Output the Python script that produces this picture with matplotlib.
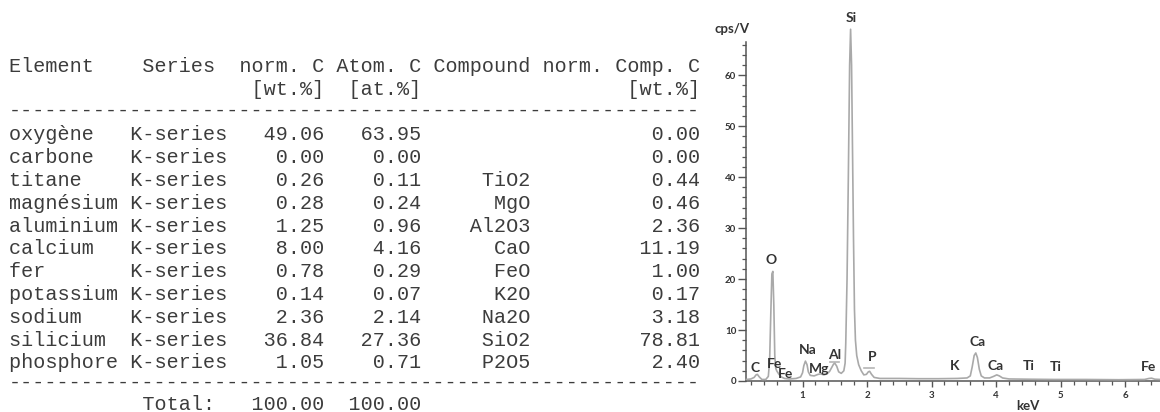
import matplotlib.pyplot as plt
from matplotlib.ticker import MultipleLocator

# --- quantification table (left) ---
elements = ["oxygène", "carbone", "titane", "magnésium", "aluminium", "calcium",
            "fer", "potassium", "sodium", "silicium", "phosphore"]
series = ["K-series"] * len(elements)
norm_c = [49.06, 0.00, 0.26, 0.28, 1.25, 8.00, 0.78, 0.14, 2.36, 36.84, 1.05]
atom_c = [63.95, 0.00, 0.11, 0.24, 0.96, 4.16, 0.29, 0.07, 2.14, 27.36, 0.71]
compounds = ["", "", "TiO2", "MgO", "Al2O3", "CaO", "FeO", "K2O", "Na2O", "SiO2", "P2O5"]
comp_c = [0.00, 0.00, 0.44, 0.46, 2.36, 11.19, 1.00, 0.17, 3.18, 78.81, 2.40]
total_norm = 100.00
total_atom = 100.00

# --- EDS spectrum (right) ---
kev = [0.13, 0.20, 0.25, 0.28, 0.30, 0.33, 0.37, 0.43, 0.47, 0.49,
       0.51, 0.525, 0.54, 0.555, 0.57, 0.585, 0.60, 0.63, 0.67, 0.72,
       0.80, 0.90, 0.97, 1.00, 1.02, 1.045, 1.07, 1.09, 1.12, 1.18,
       1.24, 1.28, 1.33, 1.38, 1.42, 1.45, 1.48, 1.50, 1.53, 1.56,
       1.60, 1.64, 1.66, 1.67, 1.69, 1.71, 1.73, 1.745, 1.76, 1.775,
       1.79, 1.805, 1.82, 1.84, 1.87, 1.91, 1.95, 1.99, 2.02, 2.04,
       2.07, 2.11, 2.20, 2.50, 2.80, 3.10, 3.40, 3.55, 3.60, 3.63,
       3.66, 3.685, 3.71, 3.74, 3.77, 3.82, 3.90, 3.96, 4.01, 4.05,
       4.10, 4.20, 4.50, 4.90, 5.40, 5.90, 6.30, 6.37, 6.41, 6.46, 6.55]
cps = [0.3, 0.4, 0.7, 1.2, 1.3, 0.8, 0.3, 0.3, 0.9, 4.0,
       14.0, 21.0, 21.5, 15.0, 5.0, 2.5, 2.0, 1.4, 0.8, 0.5,
       0.4, 0.5, 0.8, 1.6, 3.0, 3.9, 3.2, 1.8, 1.1, 1.0,
       1.3, 1.4, 1.2, 1.4, 1.9, 2.6, 3.3, 3.5, 2.9, 1.8,
       1.5, 2.0, 3.5, 7.4, 20.0, 40.0, 62.0, 69.0, 62.0, 45.0,
       28.0, 14.0, 8.0, 5.0, 3.2, 2.0, 1.2, 1.3, 1.8, 1.9,
       1.3, 0.7, 0.5, 0.5, 0.45, 0.45, 0.5, 0.6, 1.0, 2.8,
       5.0, 5.5, 4.6, 2.3, 1.0, 0.6, 0.6, 0.9, 1.2, 1.0,
       0.6, 0.4, 0.35, 0.3, 0.3, 0.25, 0.3, 0.5, 0.55, 0.35, 0.3]

peak_labels = ["Si", "O", "C", "Fe", "Fe", "Na", "Mg", "Al", "P", "Ca", "K", "Ca", "Ti", "Ti", "Fe"]
label_kev = [1.76, 0.52, 0.265, 0.57, 0.73, 1.075, 1.26, 1.49, 2.08, 3.71, 3.36, 3.995, 4.50, 4.925, 6.37]
label_cps = [71.2, 23.7, 2.5, 3.4, 1.3, 6.1, 2.3, 5.1, 4.8, 7.7, 3.0, 3.0, 3.0, 2.8, 2.8]

# little grey bars the software draws over some peaks
bar_start = [1.43, 1.95]
bar_end = [1.57, 2.11]
bar_level = [3.65, 2.5]

W, H = 1160, 412
fig = plt.figure(figsize=(W / 100, H / 100), dpi=100)

# table as monospaced text lines
lines = []
lines.append("Element    Series  norm. C Atom. C Compound norm. Comp. C")
lines.append(" " * 20 + "[wt.%]  [at.%]" + " " * 17 + "[wt.%]")
lines.append("-" * 57)
for e, s, n, a, c, cc in zip(elements, series, norm_c, atom_c, compounds, comp_c):
    lines.append(e.ljust(10) + s + "%8.2f" % n + "%8.2f" % a + "%9s" % c + "%14.2f" % cc)
lines.append("-" * 57)
lines.append(" " * 11 + "Total:" + "%9.2f" % total_norm + "%8.2f" % total_atom)

y0, dy = 66.5, 22.8
ys = [y0 + dy * i for i in range(len(lines))]
ys[2] = 110
ys[-2] = 382
ys[-1] = 404  # keep the total line inside the picture
for line, yc in zip(lines, ys):
    fig.text(9 / W, 1 - yc / H, line, family="Liberation Mono",
             fontsize=14.46, color="#3c3c3c", va="center", ha="left")

# spectrum
ax = fig.add_axes([746 / W, 1 - 381 / H, (W - 746) / W, (381 - 42) / H])
ax.plot(kev, cps, color="#a9a9a9", lw=1.2, clip_on=False, zorder=3)
for xs, xe, yl in zip(bar_start, bar_end, bar_level):
    ax.plot([xs, xe], [yl, yl], color="#b5b5b5", lw=1.2)

ax.set_xlim(0.124, 6.54)
ax.set_ylim(0, 66.5)
ax.spines["top"].set_visible(False)
ax.spines["right"].set_visible(False)
for sp in ["left", "bottom"]:
    ax.spines[sp].set_color("#555555")
    ax.spines[sp].set_linewidth(1.1)

ax.xaxis.set_major_locator(MultipleLocator(1))
ax.xaxis.set_minor_locator(MultipleLocator(0.2))
ax.yaxis.set_major_locator(MultipleLocator(10))
ax.yaxis.set_minor_locator(MultipleLocator(2))
ax.tick_params(axis="y", which="major", length=6, width=1, color="#555555", pad=1,
               labelsize=7, labelcolor="#333333")
ax.tick_params(axis="y", which="minor", length=3, width=0.9, color="#555555")
ax.tick_params(axis="x", which="major", length=4, width=1, color="#555555", pad=3,
               labelsize=7, labelcolor="#333333")
ax.tick_params(axis="x", which="minor", length=3, width=0.9, color="#555555")
for lab in ax.get_xticklabels() + ax.get_yticklabels():
    lab.set_family("Lato")
    lab.set_fontweight("bold")

ax.set_xlabel("keV", family="Lato", fontweight="bold", fontsize=9.5, color="#333333")
ax.xaxis.set_label_coords((1028 - 746) / (W - 746), -19 / (381 - 42))
ax.patch.set_alpha(0)

for t, xk, yc in zip(peak_labels, label_kev, label_cps):
    ax.text(xk, yc, t, family="Lato", fontweight="bold", fontsize=10, color="#333333",
            ha="center", va="center", clip_on=False)

fig.text(732 / W, 1 - 29 / H, "cps/V", family="Lato", fontweight="bold", fontsize=9.5,
         color="#333333", ha="center", va="center")

plt.savefig("out.png", dpi=100)
